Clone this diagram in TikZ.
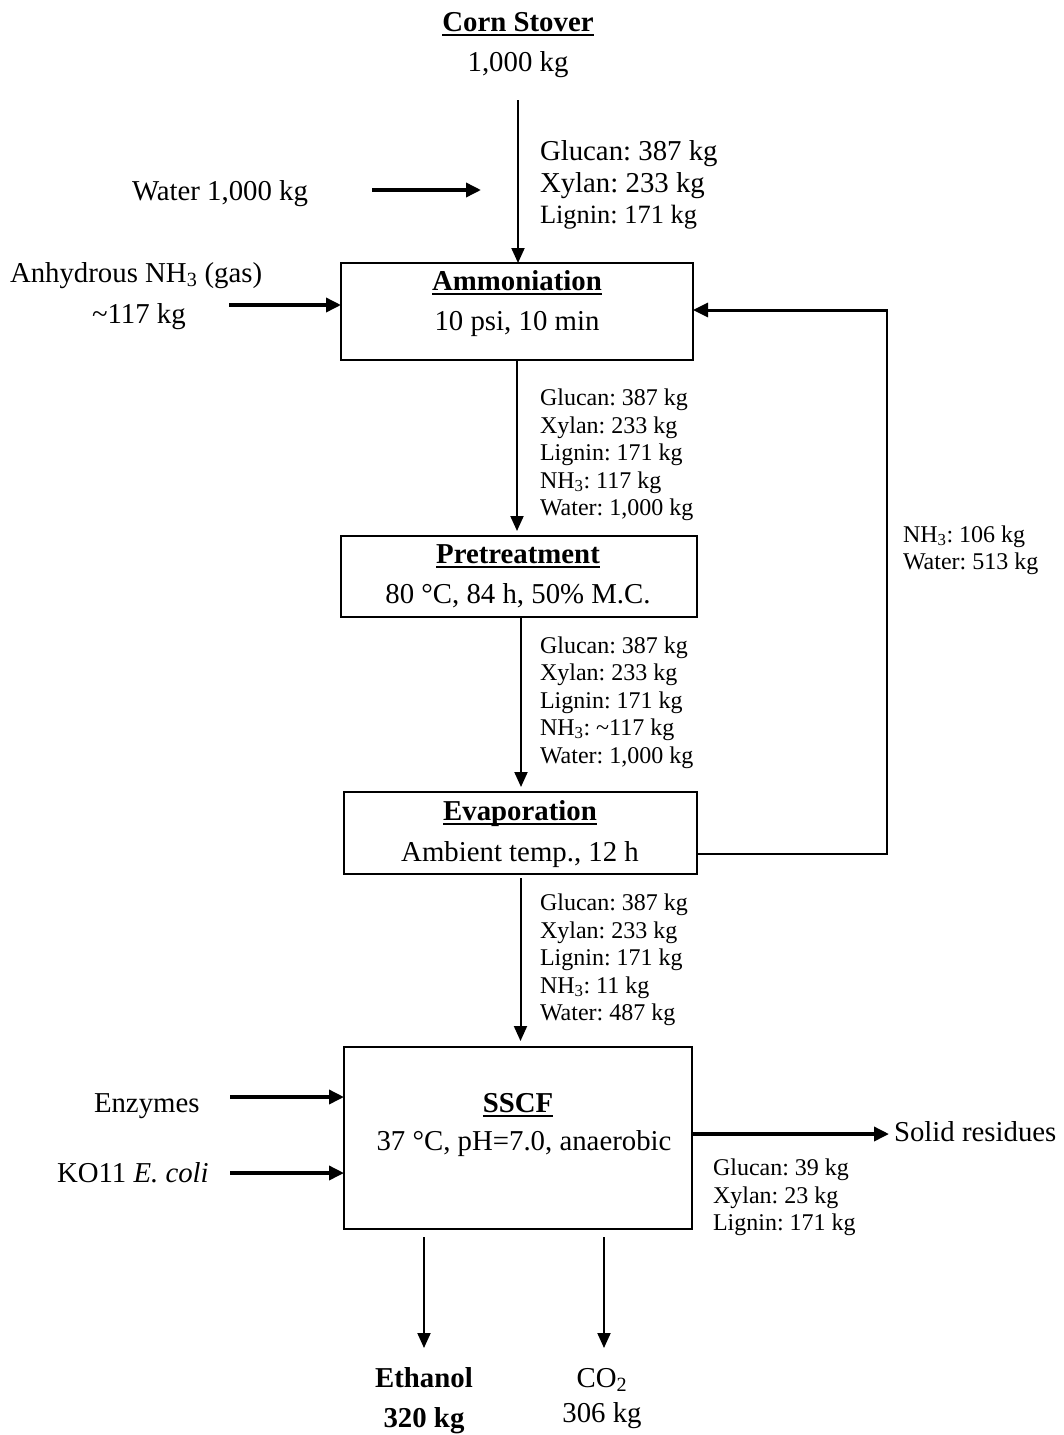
\documentclass[tikz,border=0pt]{standalone}
\usepackage{fontspec}
\setmainfont{Liberation Serif}
\usetikzlibrary{arrows.meta}
\newcommand\fL{\fontsize{28.8}{34}\selectfont}
\newcommand\fM{\fontsize{26.4}{32}\selectfont}
\newcommand\fS{\fontsize{24}{28}\selectfont}
\newcommand\myul[1]{\setbox0\hbox{#1}\rlap{\rule[-5pt]{\wd0}{2.4pt}}\box0}
\frenchspacing
\tikzset{
  box/.style={draw, line width=2.2pt, inner sep=0pt, outer sep=0pt},
  txt/.style={inner sep=0pt, outer sep=0pt},
  tb/.style={txt, anchor=base},
  tw/.style={txt, anchor=base west},
  arrT/.style={line width=2pt, -{Triangle[length=15pt,width=13pt]}},
  arrK/.style={line width=3.5pt, -{Triangle[length=15pt,width=14pt]}},
  plain/.style={line width=2pt},
}
\begin{document}
\begin{tikzpicture}[x=1pt,y=-1pt]
\useasboundingbox (0,0) rectangle (1063,1435);

% process boxes
\node[box, minimum width=352pt, minimum height=97pt] (amm) at (517,311.5) {};
\node[box, minimum width=356pt, minimum height=81pt] (pret) at (519,576.5) {};
\node[box, minimum width=353pt, minimum height=82pt] (evap) at (520.5,833) {};
\node[box, minimum width=348pt, minimum height=182pt] (sscf) at (518,1138) {};

% box texts
\node[tb] (ammT) at (517,290) {\fL\bfseries\myul{Ammoniation}};
\node[tb] (ammS) at (517,330) {\fL 10 psi, 10 min};
\node[tb] (pretT) at (518,563) {\fL\bfseries\myul{Pretreatment}};
\node[tb] (pretS) at (518,603) {\fL 80 °C, 84 h, 50\% M.C.};
\node[tb] (evapT) at (520,820) {\fL\bfseries\myul{Evaporation}};
\node[tb] (evapS) at (520,861) {\fL Ambient temp., 12 h};
\node[tb] (sscfT) at (518,1112) {\fL\bfseries\myul{SSCF}};
\node[tb] (sscfS) at (524,1150) {\fL 37 °C, pH=7.0, anaerobic};

% top feed
\node[tb] (cs) at (518,31) {\fL\bfseries\myul{Corn Stover}};
\node[tb] (csm) at (518,71) {\fL 1,000 kg};
\node[tw] (f1) at (540,160) {\fL Glucan: 387 kg};
\node[tw] (f2) at (540,192) {\fL Xylan: 233 kg};
\node[tw] (f3) at (540,223) {\fM Lignin: 171 kg};

\node[tw] (water) at (132,200) {\fL Water 1,000 kg};
\node[tw] (nh3) at (10,282) {\fL Anhydrous NH\textsubscript{3} (gas)};
\node[tw] (nh3m) at (92,323) {\fL \textasciitilde117 kg};

% stream 1
\node[tw] (a1) at (540,405) {\fS Glucan: 387 kg};
\node[tw] (a2) at (540,433) {\fS Xylan: 233 kg};
\node[tw] (a3) at (540,460) {\fS Lignin: 171 kg};
\node[tw] (a4) at (540,488) {\fS NH\textsubscript{3}: 117 kg};
\node[tw] (a5) at (540,515) {\fS Water: 1,000 kg};
% stream 2
\node[tw] (b1) at (540,653) {\fS Glucan: 387 kg};
\node[tw] (b2) at (540,680) {\fS Xylan: 233 kg};
\node[tw] (b3) at (540,708) {\fS Lignin: 171 kg};
\node[tw] (b4) at (540,735) {\fS NH\textsubscript{3}: \textasciitilde117 kg};
\node[tw] (b5) at (540,763) {\fS Water: 1,000 kg};
% stream 3
\node[tw] (c1) at (540,910) {\fS Glucan: 387 kg};
\node[tw] (c2) at (540,938) {\fS Xylan: 233 kg};
\node[tw] (c3) at (540,965) {\fS Lignin: 171 kg};
\node[tw] (c4) at (540,993) {\fS NH\textsubscript{3}: 11 kg};
\node[tw] (c5) at (540,1020) {\fS Water: 487 kg};
% recycle
\node[tw] (r1t) at (903,542) {\fS NH\textsubscript{3}: 106 kg};
\node[tw] (r2t) at (903,569) {\fS Water: 513 kg};

% SSCF in/out
\node[tw] (enz) at (94,1112) {\fL Enzymes};
\node[tw] (ko) at (57,1182) {\fL KO11 \textit{E. coli}};
\node[tw] (sol) at (894,1141) {\fL Solid residues};
\node[tw] (d1) at (713,1175) {\fS Glucan: 39 kg};
\node[tw] (d2) at (713,1203) {\fS Xylan: 23 kg};
\node[tw] (d3) at (713,1230) {\fS Lignin: 171 kg};
\node[tb] (eth) at (424,1387) {\fL\bfseries Ethanol};
\node[tb] (ethm) at (424,1427) {\fL\bfseries 320 kg};
\node[tb] (co2) at (602,1387) {\fL CO\textsubscript{2}};
\node[tb] (co2m) at (602,1422) {\fL 306 kg};

% connectors
\coordinate (c0) at (518,100);
\draw[arrT] (c0) -- (c0 |- amm.north);
\coordinate (w1) at (372,190);
\coordinate (w2) at (481,190);
\draw[arrK] (w1) -- (w2);
\coordinate (n1) at (229,305);
\draw[arrK] (n1) -- (n1 -| amm.west);
\draw[arrT, shorten <=1pt, shorten >=5pt] (amm.south) -- (amm.south |- pret.north);
\draw[arrT, shorten <=1pt, shorten >=5pt] ([xshift=2pt]pret.south) -- ([xshift=2pt]pret.south |- evap.north);
\draw[arrT, shorten <=4pt, shorten >=6pt] (evap.south) -- (evap.south |- sscf.north);

\coordinate (q1) at (887,854);
\coordinate (q2) at (887,310);
\draw[plain] (evap.east |- q1) -- (q1) -- ([yshift=-1pt]q2);
\draw[arrK, line width=3pt] ([xshift=1pt]q2) -- (q2 -| amm.east);

\coordinate (e1) at (230,1097);
\draw[arrK] (e1) -- (e1 -| sscf.west);
\coordinate (k1) at (230,1173);
\draw[arrK] (k1) -- (k1 -| sscf.west);
\coordinate (s1) at (889,1134);
\draw[arrK] (sscf.east |- s1) -- (s1);
\coordinate (eo) at (424,1348);
\draw[arrT, shorten <=8pt] (sscf.south -| eo) -- (eo);
\coordinate (co) at (604,1348);
\draw[arrT, shorten <=8pt] (sscf.south -| co) -- (co);
\end{tikzpicture}
\end{document}
